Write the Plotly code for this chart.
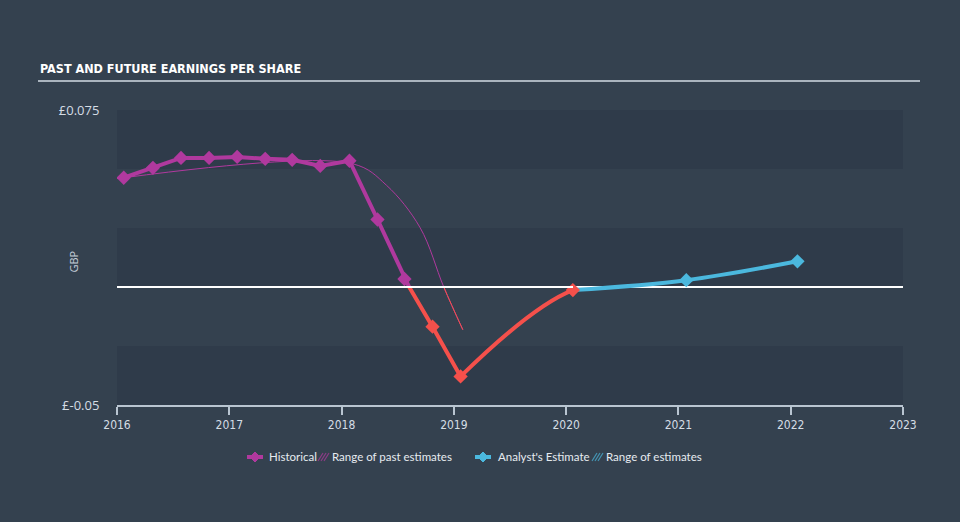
import plotly.graph_objects as go

# ---------------- data ----------------
hist_x = [2016.06, 2016.32, 2016.57, 2016.82, 2017.07, 2017.32, 2017.56, 2017.81,
          2018.07, 2018.32, 2018.56, 2018.81, 2019.06]
hist_y = [0.0463, 0.0505, 0.0547, 0.0547, 0.0551, 0.0543, 0.0539, 0.0513,
          0.0535, 0.0286, 0.0034, -0.0168, -0.0379]

ttm_x = [2020.06]
ttm_y = [-0.0013]

fc_x = [2020.06, 2021.07, 2022.06]
fc_y = [-0.0013, 0.0029, 0.0109]

past_est_x = [2016.06, 2018.10, 2018.40, 2018.70, 2018.91, 2019.08]
past_est_y = [0.0463, 0.0522, 0.0431, 0.0251, 0.0, -0.0181]

y_tick_vals = [-0.05, 0.075]
y_tick_text = ["£-0.05", "£0.075"]
x_tick_vals = [2016, 2017, 2018, 2019, 2020, 2021, 2022, 2023]

legend_labels = ["Historical", "Range of past estimates", "Analyst's Estimate", "Range of estimates"]

# ---------------- styles ----------------
MAG = "#b0399e"
RED = "#f5504b"
BLUE = "#4bb8de"
BG = "#34414f"
DARK = "#2f3b4a"

W, H = 960, 522
ML, MR, MT, MB = 117, 57, 110, 117
PW, PH = W - ML - MR, H - MT - MB
XR = [2016, 2023]
YR = [-0.05, 0.075]


def px2paper(px, py):
    return (px - ML) / PW, (H - MB - py) / PH


# split historical series at zero
pos = [(x, y) for x, y in zip(hist_x, hist_y) if y >= 0]
neg = [(x, y) for x, y in zip(hist_x, hist_y) if y < 0]
(x0, y0), (x1, y1) = pos[-1], neg[0]
xc = x0 + (x1 - x0) * (0 - y0) / (y1 - y0)

fig = go.Figure()

# range of past estimates (thin): magenta, with red overlay clipped below zero (y2)
fig.add_trace(go.Scatter(x=past_est_x, y=past_est_y, mode="lines",
                         line=dict(color=MAG, width=1, shape="spline", smoothing=1.0),
                         showlegend=False, hoverinfo="skip"))
fig.add_trace(go.Scatter(x=past_est_x, y=past_est_y, mode="lines", xaxis="x", yaxis="y2",
                         line=dict(color=RED, width=1, shape="spline", smoothing=1.0),
                         showlegend=False, hoverinfo="skip"))

# historical magenta line
fig.add_trace(go.Scatter(x=[p[0] for p in pos] + [xc], y=[p[1] for p in pos] + [0],
                         mode="lines", line=dict(color=MAG, width=4), showlegend=False))
# historical red line (below zero)
fig.add_trace(go.Scatter(x=[xc] + [p[0] for p in neg], y=[0] + [p[1] for p in neg],
                         mode="lines", line=dict(color=RED, width=4), showlegend=False))
# red curve to TTM value, clipped on secondary axis
fig.add_trace(go.Scatter(x=[neg[-1][0]] + fc_x[:2], y=[neg[-1][1]] + fc_y[:2],
                         mode="lines", line=dict(color=RED, width=4, shape="spline"),
                         xaxis="x2", yaxis="y", showlegend=False))
# analyst forecast
fig.add_trace(go.Scatter(x=fc_x, y=fc_y, mode="lines",
                         line=dict(color=BLUE, width=4, shape="spline"), showlegend=False))
fig.add_trace(go.Scatter(x=fc_x[1:], y=fc_y[1:], mode="markers",
                         marker=dict(symbol="diamond", size=11, color=BLUE,
                                     line=dict(width=0)),
                         showlegend=False))
# markers
fig.add_trace(go.Scatter(x=[p[0] for p in pos], y=[p[1] for p in pos], mode="markers",
                         marker=dict(symbol="diamond", size=11, color=MAG,
                                     line=dict(width=0)),
                         showlegend=False))
fig.add_trace(go.Scatter(x=[p[0] for p in neg] + ttm_x, y=[p[1] for p in neg] + ttm_y,
                         mode="markers", opacity=1,
                         marker=dict(symbol="diamond", size=11, color=RED, opacity=1,
                                     line=dict(width=0)),
                         showlegend=False))

shapes = []
# dark horizontal bands
for lo, hi in [(0.05, 0.075), (0.0, 0.025), (-0.05, -0.025)]:
    shapes.append(dict(type="rect", xref="paper", yref="y", x0=0, x1=1, y0=lo, y1=hi,
                       fillcolor=DARK, line=dict(width=0), layer="below"))
# title underline
ux0, uy = px2paper(38, 81)
ux1, _ = px2paper(920, 81)
shapes.append(dict(type="line", xref="paper", yref="paper", x0=ux0, x1=ux1, y0=uy, y1=uy,
                   line=dict(color="#aab4be", width=2)))

annotations = []
tx, ty = px2paper(38, 68)
annotations.append(dict(text="<b>PAST AND FUTURE EARNINGS PER SHARE</b>", xref="paper", yref="paper",
                        x=tx, y=ty, xanchor="left", yanchor="middle", showarrow=False,
                        font=dict(family="DejaVu Sans Condensed", size=12.5, color="#ffffff")))
gx, gy = px2paper(63, 262)
annotations.append(dict(text="GBP", xref="paper", yref="paper", x=gx, y=gy, textangle=-90,
                        showarrow=False, font=dict(family="Open Sans", size=11, color="#c5ced8")))


# custom legend
def diamond_icon(cx, cy, color):
    ax, ay = px2paper(cx, cy)
    shapes.append(dict(type="line", xref="paper", yref="paper", xsizemode="pixel",
                       ysizemode="pixel", xanchor=ax, yanchor=ay, x0=-8, x1=8, y0=0, y1=0,
                       line=dict(color=color, width=4)))
    shapes.append(dict(type="path", xref="paper", yref="paper", xsizemode="pixel",
                       ysizemode="pixel", xanchor=ax, yanchor=ay,
                       path="M -5 0 L 0 5 L 5 0 L 0 -5 Z", fillcolor=color,
                       line=dict(color=color, width=1)))


def hatch_icon(cx, cy, color):
    ax, ay = px2paper(cx, cy)
    for off in (-2.5, 0.5, 3.5):
        shapes.append(dict(type="line", xref="paper", yref="paper", xsizemode="pixel",
                           ysizemode="pixel", xanchor=ax, yanchor=ay,
                           x0=off - 2.5, x1=off + 2.5, y0=-4, y1=4,
                           line=dict(color=color, width=1.2), opacity=0.7))


LY = 457
diamond_icon(255, LY, MAG)
hatch_icon(323, LY, MAG)
diamond_icon(483, LY, BLUE)
hatch_icon(597, LY, BLUE)
for lbl, lx in zip(legend_labels, [267, 330, 496, 604]):
    ax, ay = px2paper(lx, LY)
    annotations.append(dict(text=lbl, xref="paper", yref="paper", x=ax, y=ay,
                            xanchor="left", yanchor="middle", showarrow=False,
                            font=dict(family="Lato", size=11.5, color="#e6ebf0")))

fig.update_layout(
    width=W, height=H,
    margin=dict(l=ML, r=MR, t=MT, b=MB),
    paper_bgcolor=BG, plot_bgcolor="rgba(0,0,0,0)",
    shapes=shapes,
    annotations=annotations,
    showlegend=False,
    xaxis=dict(range=XR, tickvals=x_tick_vals, showgrid=False, zeroline=False,
               showline=True, linecolor="#b9c5d1", linewidth=1.5,
               ticks="outside", ticklen=8, tickcolor="#b9c5d1", tickwidth=1.5,
               tickfont=dict(family="DejaVu Sans Condensed", size=12, color="#d5dde5")),
    xaxis2=dict(domain=[0, (ttm_x[0] - XR[0]) / (XR[1] - XR[0])],
                range=[XR[0], ttm_x[0]], visible=False, anchor="y"),
    yaxis=dict(range=YR, tickvals=y_tick_vals, ticktext=y_tick_text, showgrid=False,
               zeroline=True, zerolinecolor="#ffffff", zerolinewidth=1.5,
               showline=False, ticks="outside", ticklen=14, tickcolor="rgba(0,0,0,0)",
               tickfont=dict(family="Open Sans", size=13, color="#d5dde5")),
    yaxis2=dict(domain=[0, (0 - YR[0]) / (YR[1] - YR[0])], range=[YR[0], 0],
                visible=False, anchor="x"),
)

fig.write_html("out.html")
